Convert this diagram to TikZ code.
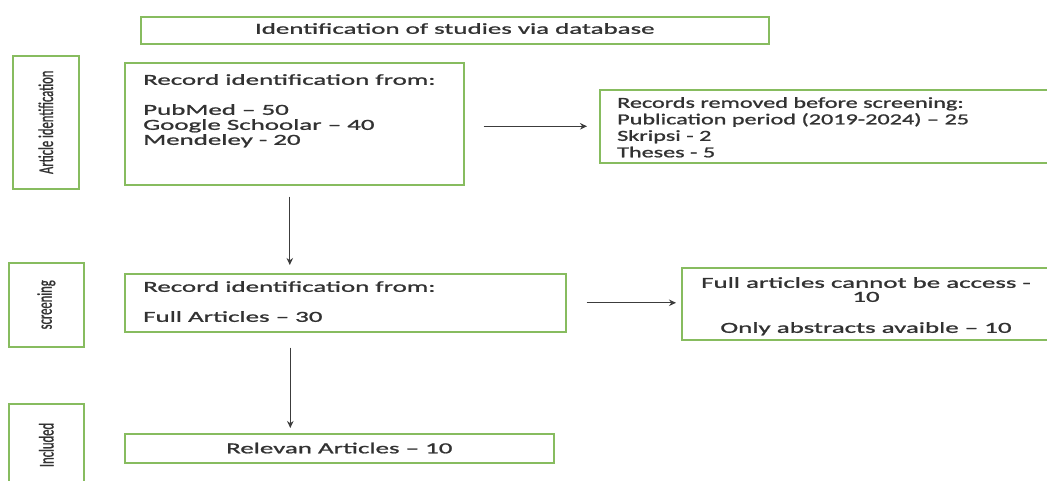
\documentclass[tikz,border=0pt]{standalone}
\usepackage{fontspec}
\setmainfont{Carlito}
\newfontfamily\wa[FakeStretch=1.76,FakeBold=1.2]{Carlito}
\newfontfamily\wb[FakeStretch=1.58,FakeBold=1.2]{Carlito}
\newfontfamily\nar[FakeStretch=0.6,FakeBold=0.8]{Carlito}
\usetikzlibrary{arrows.meta}
\definecolor{boxgreen}{RGB}{135,188,95}
\definecolor{txt}{RGB}{50,50,50}
\definecolor{arrgray}{RGB}{60,60,60}
\tikzset{
  box/.style={draw=boxgreen, line width=1.6pt, fill=white, inner sep=0pt, anchor=north west},
  maintext/.style={inner sep=0pt, text=txt, font=\wa\fontsize{15.3}{15}\selectfont},
  sidetext/.style={inner sep=0pt, text=txt, rotate=90, font=\nar\fontsize{21}{21}\selectfont},
  arr/.style={draw=arrgray, line width=1.2pt, -{Stealth[length=7pt,width=6.5pt]}}
}
\begin{document}
\begin{tikzpicture}[x=1pt,y=-1pt]
\useasboundingbox (0,0) rectangle (1047,481);
\clip (0,0) rectangle (1047,481);
\fill[white] (0,0) rectangle (1047,481);

% title
\node[box, minimum width=628pt, minimum height=27pt, text=txt, font=\wa\fontsize{15.3}{15}\selectfont, text height=9pt, text depth=2pt] (title) at (140,16) {Identification of studies via database};

% side boxes
\node[box, minimum width=66pt, minimum height=133pt] (sideA) at (12,55) {};
\node[sidetext] (sideAt) at (sideA.center) {Article identification};
\node[box, minimum width=75pt, minimum height=84pt] (sideB) at (8,262) {};
\node[sidetext] (sideBt) at (sideB.center) {screening};
\node[box, minimum width=75pt, minimum height=90pt] (sideC) at (8,403) {};
\node[sidetext] (sideCt) at ([yshift=-42pt]sideC.north) {Included};

% record identification box 1
\node[box, minimum width=339pt, minimum height=122pt] (rec1) at (124,62) {};
\node[maintext, anchor=north west, align=left] (rec1t) at (143,74)
  {Record identification from:\\[15pt]PubMed – 50\\Google Schoolar – 40\\Mendeley - 20};

% removed box
\node[box, minimum width=453pt, minimum height=73pt] (removed) at (599,89) {};
\node[inner sep=0pt, text=txt, font=\wb\fontsize{15.3}{16.5}\selectfont, anchor=north west, align=left] (removedt) at (617,97)
  {Records removed before screening:\\Publication period (2019-2024) – 25\\Skripsi - 2\\Theses - 5};

% record identification box 2
\node[box, minimum width=441pt, minimum height=58pt] (rec2) at (124,273) {};
\node[maintext, anchor=north west, align=left] (rec2t) at (143,281)
  {Record identification from:\\[15pt]Full Articles – 30};

% excluded box
\node[box, minimum width=370pt, minimum height=72pt] (excl) at (681,267) {};
\node[maintext, anchor=north, align=center, font=\wa\fontsize{15.3}{14}\selectfont] (exclt) at (866,277)
  {Full articles cannot be access -\\10\\[17pt]Only abstracts avaible – 10};

% included box
\node[box, minimum width=429pt, minimum height=29pt, text=txt, font=\wa\fontsize{15.3}{15}\selectfont, text height=10pt, text depth=0pt] (relev) at (124,433) {Relevan Articles – 10};

% arrows
\draw[arr] ([xshift=19pt]rec1.east |- removed.west) -- ([xshift=-12pt]removed.west);
\draw[arr] ([xshift=-4.5pt,yshift=-11pt]rec1.south) -- ([xshift=-4.5pt,yshift=8pt]rec1.south |- rec2.north);
\draw[arr] ([xshift=20pt]rec2.east) -- ([xshift=-5pt]excl.west |- rec2.east);
\draw[arr] ([xshift=-55pt,yshift=-15pt]rec2.south) -- ([xshift=-55pt,yshift=5pt]rec2.south |- relev.north);
\end{tikzpicture}
\end{document}
